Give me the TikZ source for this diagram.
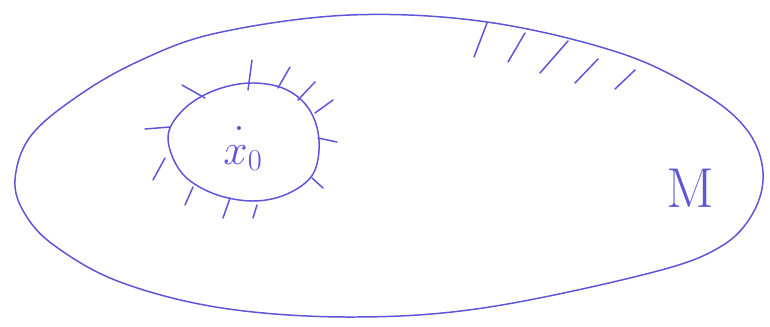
\documentclass[tikz,border=0pt]{standalone}
\usepackage{fontspec}
\definecolor{penblue}{RGB}{95,85,215}

\begin{document}
\begin{tikzpicture}[
    x=0.02cm, y=-0.02cm,
    pen/.style ={draw=penblue, line width=0.85pt, line cap=round},
    lbl/.style ={text=penblue, inner sep=0pt}
  ]
  \useasboundingbox (0,0) rectangle (770,326);
  % outer set M
  \draw[pen] plot[smooth cycle, tension=0.6] coordinates {
      (15,180) (30,137) (75,98) (137,62) (217,33) (350,15)
      (487,22) (620,53) (703,93) (747,130) (763,172) (753,213)
      (720,247) (650,273) (483,308) (350,317) (222,308)
      (120,282) (55,246) (25,214)};
  % neighbourhood of x0
  \draw[pen] plot[smooth cycle, tension=0.6] coordinates {
      (168,137) (183,110) (213,91) (250,83) (285,89) (309,109)
      (319,140) (313,174) (287,194) (252,201) (212,193) (181,172)};
  % hatching round the neighbourhood
  \foreach \ax/\ay/\bx/\by in {182/85/205/98, 252/60/248/90, 290/67/278/88,
      315/82/298/100, 333/100/315/113, 318/138/337/142, 312/178/323/188,
      145/129/170/127, 165/158/153/180, 193/187/185/205, 230/198/223/218,
      257/205/253/218}
    \draw[pen] (\ax,\ay) -- (\bx,\by);
  % hatching on the boundary of M
  \foreach \ax/\ay/\bx/\by in {487/23/474/57, 525/33/508/62, 568/41/540/73,
      598/59/575/83, 635/70/615/89}
    \draw[pen] (\ax,\ay) -- (\bx,\by);
  \fill[penblue] (239,128) circle (2);
  \node[lbl, font=\fontsize{24}{24}\selectfont] (xnull) at (243,158) {$x_0$};
  \node[lbl, font=\fontsize{32}{32}\selectfont] (setM) at (690,188) {M};
\end{tikzpicture}
\end{document}
